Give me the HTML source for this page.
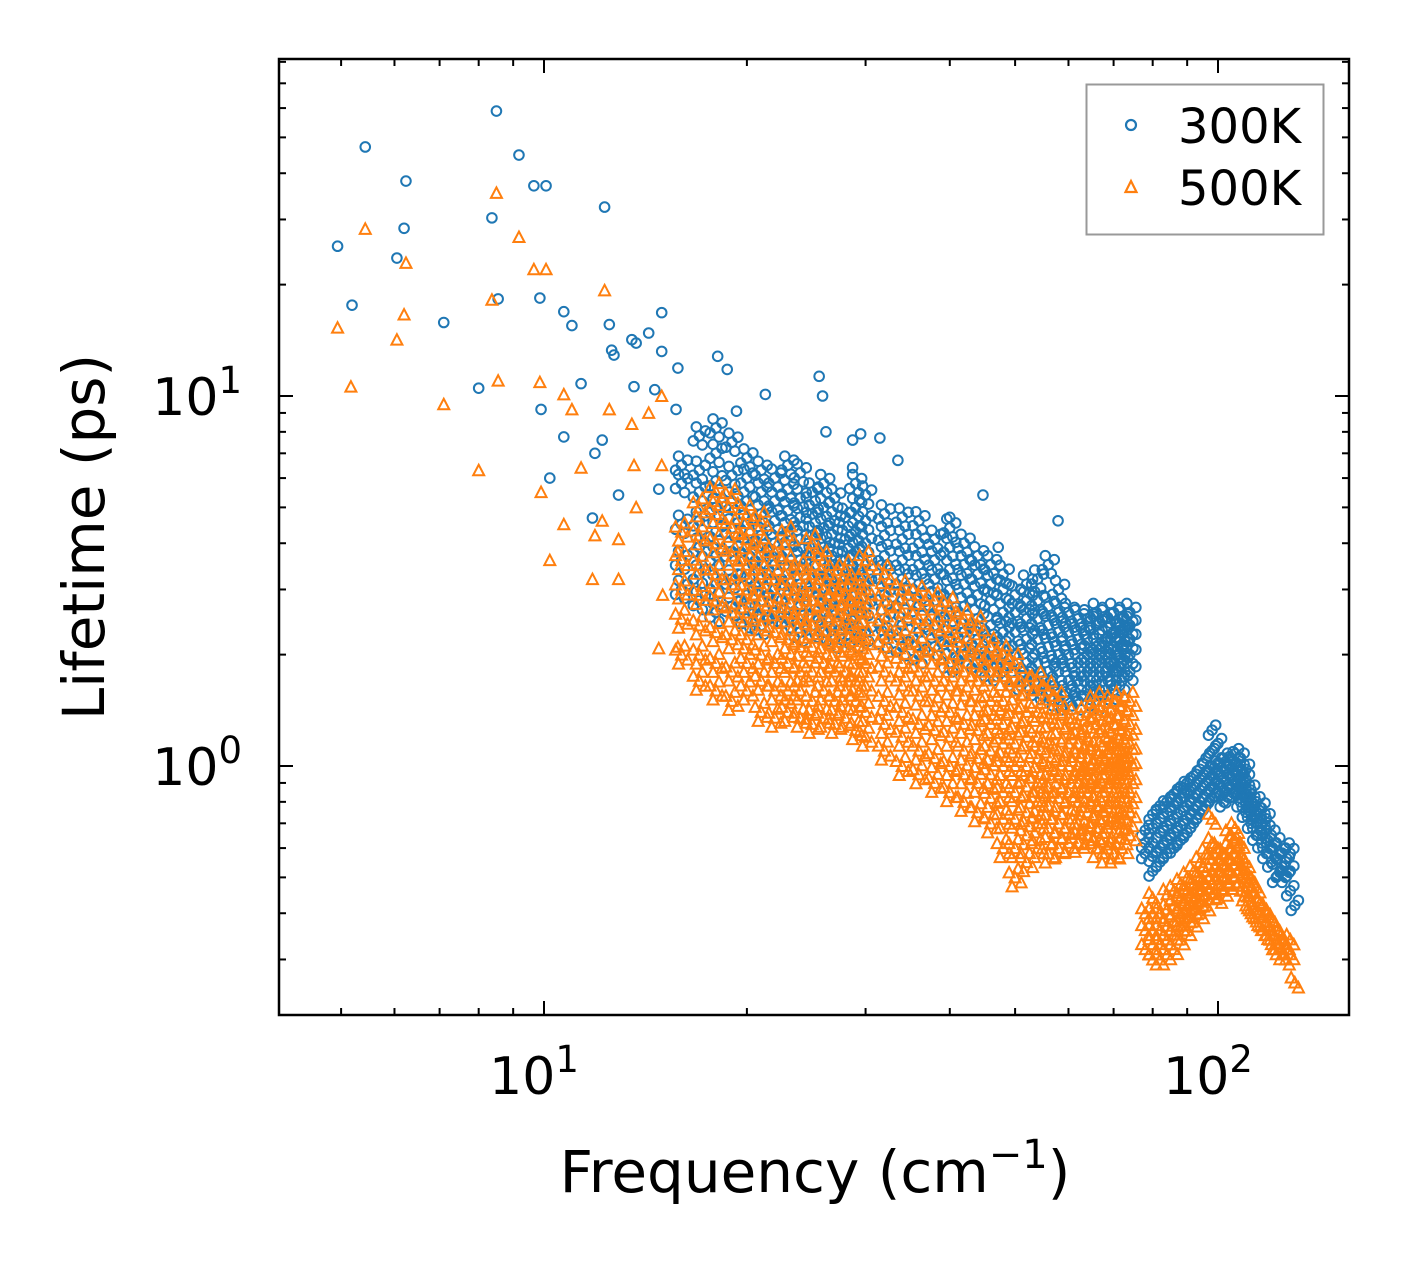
<!DOCTYPE html>
<html><head><meta charset="utf-8"><style>
html,body{margin:0;padding:0;background:#fff;}
svg{display:block;font-family:"DejaVu Sans","Liberation Sans",sans-serif;}
</style></head><body>
<svg id="chart" width="1408" height="1265" viewBox="0 0 1408 1265" xmlns="http://www.w3.org/2000/svg">
<rect width="1408" height="1265" fill="#fff"/>
<g id="marks"></g>
<g id="axes"></g>
<text x="815" y="1192" font-size="58" text-anchor="middle">Frequency (cm<tspan dy="-24" font-size="40">−1</tspan><tspan dy="24">)</tspan></text>
<text transform="translate(104,537) rotate(-90)" font-size="58" text-anchor="middle">Lifetime (ps)</text>
<g>
<rect x="1086.5" y="84.5" width="237" height="150" fill="#fff" stroke="#999" stroke-width="2"/>
<circle cx="1131" cy="125" r="5" fill="none" stroke="#1f77b4" stroke-width="2.2"/>
<text x="1178" y="143" font-size="48">300K</text>
<polygon points="1131,181 1136.5,192 1125.5,192" fill="none" stroke="#ff7f0e" stroke-width="2.2"/>
<text x="1178" y="205" font-size="48">500K</text>
</g>
</svg>
<script>
// ---- data ----
const blueSparseFreq = [4.94,5.19,5.43,6.05,6.2,6.24,7.1,8.0,8.37,8.5,8.55,9.18,9.66,10.07,9.86,9.9,10.2,10.7,10.7,11.0,11.35,11.8,11.9,12.3,12.2,12.5,12.6,12.7,13.5,13.7,13.6,14.3,14.95,14.95,14.6,12.9,14.8,15.8,15.7,18.1,18.7,19.3,21.3,25.6,25.9,26.2,28.7,29.5,28.7,31.5,33.5,40,44.8,47.2,57.9];
const blueSparseLife = [25.4,17.6,47.1,23.6,28.4,38.1,15.8,10.5,30.3,58.9,18.3,44.8,37.0,37.0,18.4,9.2,6.0,7.75,16.9,15.5,10.8,4.68,7.0,32.4,7.6,15.6,13.3,12.9,14.2,13.9,10.6,14.8,16.8,13.2,10.4,5.4,5.6,11.9,9.2,12.8,11.8,9.1,10.1,11.3,10.0,8.0,6.4,7.9,7.6,7.7,6.7,4.7,5.4,3.9,4.6];
const orangeSparseFreq = [4.94,5.17,5.43,6.05,6.2,6.24,7.1,8.0,8.37,8.5,8.55,9.18,9.66,10.07,9.86,9.9,10.2,10.7,10.7,11.0,11.35,11.8,11.9,12.3,12.2,12.5,12.9,12.9,13.5,13.6,13.7,14.3,14.8,14.95,14.95,15,15.8,15.8];
const orangeSparseLife = [15.3,10.6,28.3,14.2,16.6,22.9,9.5,6.3,18.2,35.4,11.0,26.9,22.0,22.0,10.9,5.5,3.6,4.5,10.1,9.2,6.4,3.2,4.2,19.3,4.6,9.2,4.1,3.2,8.4,6.5,5.0,9.0,2.08,10.0,6.5,2.9,3.8,2.1];
const denseFreq = [16,17,18,19,20,21,22,23,24,25,26,27,28,29,30,32,34,36,38,40,42,44,46,48,50,52,54,56,58,60,62,64,66,68,70,72,74];
const blueDenseLife = [
[3.0,3.6,4.5,5.8,6.5],[2.8,3.3,3.9,4.6,5.5,6.3,7.8],[2.6,3.1,3.7,4.3,5.0,5.9,7.0,8.2],[2.7,3.2,3.8,4.4,5.2,6.1,7.5],
[2.5,2.9,3.4,3.9,4.5,5.2,6.0,6.8],[2.4,2.8,3.2,3.7,4.2,4.8,5.5,6.3],[2.6,3.0,3.5,4.0,4.6,5.2,6.0],[2.5,2.9,3.3,3.8,4.3,4.9,5.6,6.5],
[2.3,2.7,3.1,3.6,4.1,4.7,5.3,6.2],[2.4,2.8,3.2,3.7,4.2,4.8,5.5],[2.3,2.6,3.0,3.4,3.9,4.4,5.0,5.8],[2.2,2.6,3.0,3.5,4.0,4.6,5.3],
[2.4,2.8,3.2,3.6,4.1,4.7],[2.2,2.5,2.9,3.3,3.8,4.3,5.0,5.8],[2.3,2.7,3.1,3.5,4.0,4.6,5.4],[2.2,2.5,2.9,3.3,3.7,4.2,4.8],
[2.1,2.4,2.8,3.2,3.6,4.1,4.7],[2.0,2.3,2.7,3.1,3.5,4.0,4.6],[2.1,2.4,2.8,3.2,3.6,4.1],[1.9,2.2,2.6,3.0,3.4,3.9,4.4],
[2.0,2.3,2.7,3.1,3.5,4.0],[1.9,2.2,2.5,2.9,3.3,3.7],[1.8,2.1,2.4,2.8,3.1,3.5],[1.8,2.0,2.3,2.6,3.0,3.3],
[1.7,2.0,2.3,2.6,2.9],[1.7,1.9,2.2,2.5,2.8,3.1],[1.6,1.9,2.2,2.5,2.8,3.2],[1.6,1.8,2.1,2.4,2.7,3.5],
[1.5,1.8,2.0,2.3,2.6,3.0],[1.5,1.7,2.0,2.3,2.6],[1.5,1.7,1.9,2.2,2.5],[1.6,1.8,2.0,2.2,2.5],
[1.5,1.7,1.9,2.1,2.4,2.6],[1.6,1.8,2.0,2.2,2.5],[1.6,1.8,1.9,2.1,2.3,2.6],[1.7,1.9,2.1,2.3,2.5],[1.8,2.0,2.2,2.4,2.6]];
const orangeDenseLife = [
[2.0,2.5,3.0,3.6,4.3],[1.7,2.0,2.4,2.9,3.5,4.2,5.0],[1.6,1.9,2.3,2.8,3.3,4.0,4.8,5.5],[1.5,1.8,2.2,2.6,3.1,3.7,4.4,5.3],
[1.6,1.9,2.2,2.6,3.0,3.5,4.1,4.8],[1.4,1.7,2.0,2.4,2.8,3.3,3.9,4.6],[1.35,1.6,1.9,2.3,2.7,3.2,3.8],[1.4,1.6,1.9,2.2,2.6,3.0,3.5,4.2],
[1.35,1.6,1.8,2.1,2.5,2.9,3.4],[1.3,1.5,1.8,2.1,2.4,2.8,3.3,4.0],[1.35,1.6,1.9,2.2,2.6,3.0,3.6],[1.3,1.5,1.8,2.1,2.4,2.8,3.2],
[1.35,1.6,1.8,2.1,2.5,2.9,3.4],[1.25,1.5,1.7,2.0,2.3,2.7,3.1],[1.2,1.4,1.65,1.9,2.2,2.6,3.0,3.6],[1.1,1.3,1.5,1.8,2.1,2.4,2.8,3.3],
[1.0,1.2,1.4,1.65,1.9,2.2,2.6,3.0],[0.95,1.1,1.3,1.55,1.8,2.1,2.5,2.9],[0.9,1.05,1.25,1.45,1.7,2.0,2.4,2.8],[0.85,1.0,1.2,1.4,1.65,1.9,2.3,2.7],
[0.8,0.95,1.1,1.3,1.55,1.8,2.1,2.5],[0.75,0.9,1.05,1.25,1.45,1.7,2.0,2.4],[0.7,0.82,0.95,1.1,1.3,1.5,1.8,2.1],[0.6,0.72,0.85,1.0,1.15,1.3,1.5,1.75,2.0],
[0.5,0.6,0.72,0.85,1.0,1.15,1.35,1.6,1.9],[0.55,0.65,0.75,0.88,1.0,1.2,1.4,1.65],[0.6,0.7,0.8,0.9,1.05,1.2,1.4,1.7],[0.58,0.68,0.78,0.88,1.0,1.15,1.35,1.6],
[0.6,0.7,0.82,0.95,1.1,1.3,1.5],[0.62,0.72,0.85,1.0,1.15,1.35],[0.62,0.7,0.8,0.9,1.0,1.15,1.3],[0.65,0.75,0.85,0.95,1.05,1.2,1.4],
[0.6,0.68,0.78,0.88,0.98,1.1,1.3,1.5],[0.58,0.66,0.75,0.85,0.95,1.05,1.2,1.4],[0.58,0.66,0.75,0.85,0.95,1.05,1.15,1.3,1.5],[0.6,0.7,0.8,0.9,1.0,1.1,1.25,1.45],[0.65,0.75,0.85,0.95,1.05,1.15,1.3,1.5]];
const highFreq = [78,80,82,84,86,88,90,92,94,96,98,100,102,104,106,108,110,112,114,116,118,120,122,124,126,128,130];
const blueHighLife = [
[0.58,0.62,0.67],[0.52,0.57,0.62,0.68,0.74],[0.55,0.6,0.66,0.72,0.78],[0.58,0.63,0.69,0.75,0.8],[0.6,0.66,0.72,0.78,0.84],
[0.63,0.69,0.75,0.82,0.88],[0.66,0.72,0.78,0.85,0.9],[0.7,0.76,0.82,0.88,0.94],[0.74,0.8,0.86,0.92,0.98],[0.78,0.84,0.9,0.96,1.05],
[0.82,0.88,0.94,1.0,1.1,1.25],[0.85,0.9,0.96,1.02,1.15],[0.8,0.86,0.92,0.98,1.05],[0.82,0.88,0.94,1.0,1.06],[0.85,0.9,0.96,1.02,1.08],
[0.8,0.86,0.92,0.98,1.05],[0.75,0.8,0.86,0.92,0.98],[0.7,0.75,0.8,0.86],[0.65,0.7,0.75,0.8],[0.62,0.67,0.72,0.77],
[0.58,0.62,0.67,0.72],[0.55,0.6,0.65],[0.5,0.56,0.62],[0.52,0.58],[0.5,0.55,0.6],[0.46,0.52,0.58],[0.42]];
const orangeHighLife = [
[0.32,0.36,0.4],[0.3,0.33,0.36,0.4,0.44],[0.3,0.33,0.36,0.4],[0.31,0.34,0.37,0.41,0.45],[0.32,0.35,0.38,0.42,0.46],
[0.34,0.37,0.4,0.44,0.48],[0.36,0.39,0.42,0.46,0.5],[0.38,0.41,0.44,0.48,0.52],[0.4,0.43,0.46,0.5,0.55],[0.42,0.45,0.48,0.52,0.58],
[0.45,0.48,0.52,0.56,0.62,0.72],[0.44,0.48,0.52,0.56,0.6],[0.46,0.5,0.54,0.58],[0.48,0.52,0.56,0.6,0.65],[0.5,0.54,0.58,0.63,0.68],
[0.46,0.5,0.54,0.58,0.62],[0.42,0.46,0.5,0.55],[0.4,0.43,0.47,0.5],[0.38,0.41,0.44,0.47],[0.36,0.39,0.42],
[0.35,0.38,0.41],[0.33,0.36,0.39],[0.31,0.34,0.37],[0.32,0.35],[0.3,0.33],[0.31,0.34],[0.26]];
const xMajorTicks = [10,100];
const xTickLabels = ["1","2"];
const yMajorTicks = [1,10];
const yTickLabels = ["0","1"];

// ---- axes geometry ----
const L=279,R=1349,T=59,B=1015;
const X0=544, XD=674;
const Y0=766, YD=370;
const xs = f => X0 + XD*(Math.log10(f)-1);
const ys = v => Y0 - YD*Math.log10(v);
const NS="http://www.w3.org/2000/svg";
const marks=document.getElementById('marks');
const axes=document.getElementById('axes');
function mk(tag,attrs,parent){const e=document.createElementNS(NS,tag);for(const k in attrs)e.setAttribute(k,attrs[k]);parent.appendChild(e);return e;}

function circ(f,v,dx,dy){
  dx=dx||0;dy=dy||0;
  const c=mk('circle',{cx:xs(f)+dx,cy:ys(v)+dy,r:4.8,fill:'none',stroke:'#1f77b4','stroke-width':2},marks);
  
  
}
function tri(f,v,dx,dy){
  dx=dx||0;dy=dy||0;
  const x=xs(f)+dx,y=ys(v)+dy;
  const p=mk('polygon',{points:`${x},${y-5.5} ${x+5.5},${y+5} ${x-5.5},${y+5}`,fill:'none',stroke:'#ff7f0e','stroke-width':2},marks);
  
  
}
const jit=[[0,0],[-6,5],[6,-5],[-3,-9],[3,9]];
blueSparseFreq.forEach((f,i)=>circ(f,blueSparseLife[i]));
denseFreq.forEach((f,i)=>blueDenseLife[i].forEach((v,j)=>jit.forEach(o=>circ(f,v,o[0],o[1]))));
highFreq.forEach((f,i)=>blueHighLife[i].forEach((v,j)=>jit.slice(0,3).forEach(o=>circ(f,v,o[0]*0.6,o[1]))));
orangeSparseFreq.forEach((f,i)=>tri(f,orangeSparseLife[i]));
denseFreq.forEach((f,i)=>orangeDenseLife[i].forEach((v,j)=>jit.forEach(o=>tri(f,v,-o[0],o[1]))));
highFreq.forEach((f,i)=>orangeHighLife[i].forEach((v,j)=>jit.slice(0,3).forEach(o=>tri(f,v,-o[0]*0.6,o[1]))));

const fr=mk('rect',{x:L,y:T,width:R-L,height:B-T,fill:'none',stroke:'#000','stroke-width':2.5},axes);


for(let d=1;d<=3;d++){for(let m=1;m<=9;m++){
  const val=m*Math.pow(10,d-1);
  const x=xs(val); if(x<L+1||x>R-1)continue;
  const len=(m===1)?14:7;
  const t1=mk('line',{x1:x,y1:B,x2:x,y2:B-len,stroke:'#000','stroke-width':2},axes);
  
  
  const t2=mk('line',{x1:x,y1:T,x2:x,y2:T+len,stroke:'#000','stroke-width':2},axes);
  
  
}}
xMajorTicks.forEach((v,i)=>{
  const t=mk('text',{x:xs(v)-10,y:1094,'font-size':52,'text-anchor':'middle'},axes);
  
  
  t.innerHTML='10<tspan dy="-22" font-size="37">'+xTickLabels[i]+'</tspan>';
});
for(let d=-1;d<=1;d++){for(let m=1;m<=9;m++){
  const val=m*Math.pow(10,d); const y=ys(val); if(y<T+1||y>B-1)continue;
  const len=(m===1)?14:7;
  const t1=mk('line',{x1:L,y1:y,x2:L+len,y2:y,stroke:'#000','stroke-width':2},axes);
  
  
  const t2=mk('line',{x1:R,y1:y,x2:R-len,y2:y,stroke:'#000','stroke-width':2},axes);
  
  
}}
yMajorTicks.forEach((v,i)=>{
  const t=mk('text',{x:242,y:ys(v)+19,'font-size':52,'text-anchor':'end'},axes);
  
  
  t.innerHTML='10<tspan dy="-22" font-size="37">'+yTickLabels[i]+'</tspan>';
});
</script>
</body></html>
